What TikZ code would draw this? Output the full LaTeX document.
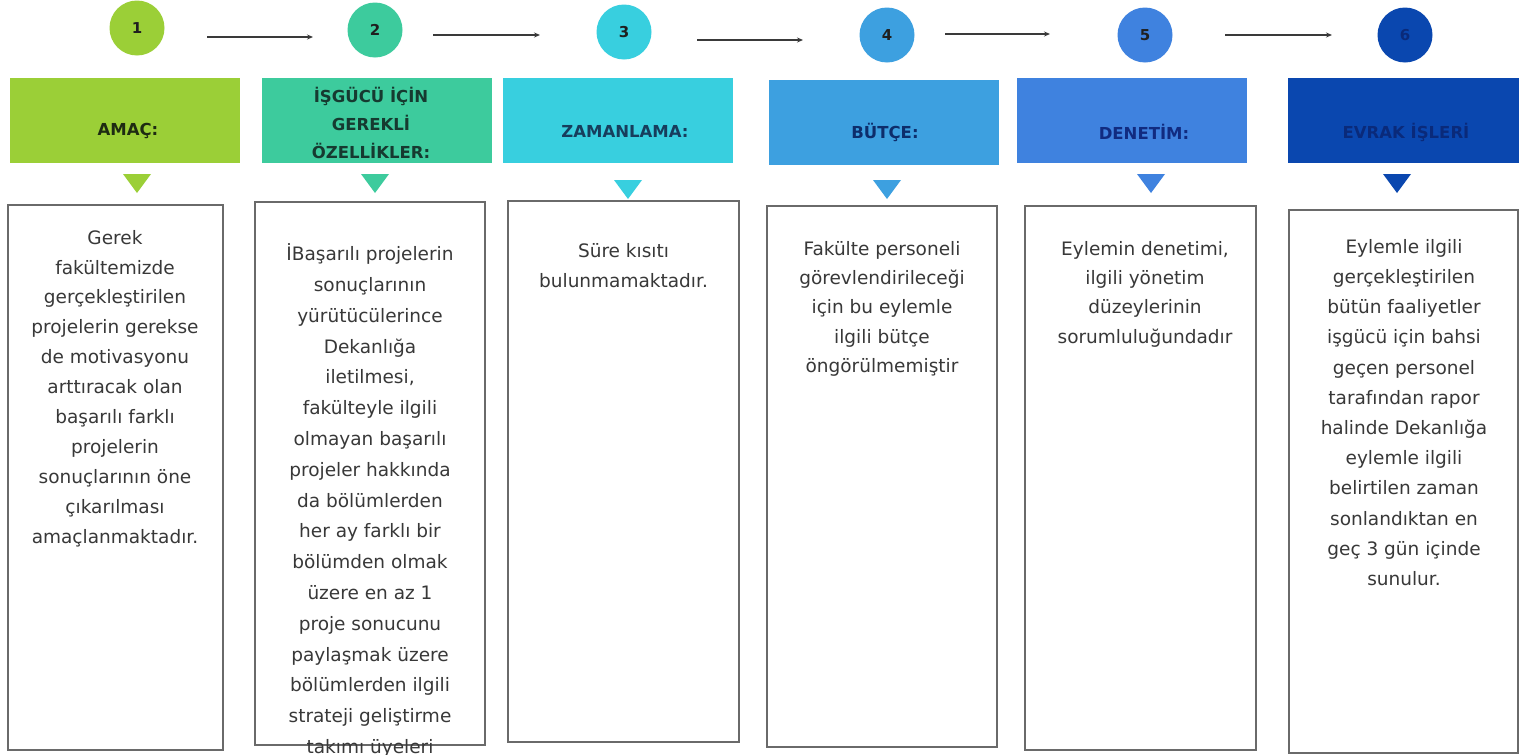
\documentclass[tikz,border=0pt]{standalone}
\usepackage{fontspec}
\setmainfont{DejaVu Sans}
\usetikzlibrary{arrows.meta}
\definecolor{cA}{HTML}{9BCF37}
\definecolor{cB}{HTML}{3DCB9D}
\definecolor{cC}{HTML}{38CFDF}
\definecolor{cD}{HTML}{3DA0E0}
\definecolor{cE}{HTML}{3F82DF}
\definecolor{cF}{HTML}{0A47AF}
\definecolor{hA}{HTML}{1E2B12}
\definecolor{hB}{HTML}{163A30}
\definecolor{hC}{HTML}{173D5C}
\definecolor{hD}{HTML}{0D2D6B}
\definecolor{hE}{HTML}{112B80}
\definecolor{hF}{HTML}{0A2A7A}
\definecolor{numtext}{HTML}{1F1F1F}
\definecolor{boxgray}{HTML}{6A6A6A}
\definecolor{bodytext}{HTML}{383838}
\definecolor{arrowgray}{HTML}{3A3A3A}
\begin{document}
\begin{tikzpicture}[x=1pt,y=-1pt,
  circ/.style={circle,minimum size=55pt,inner sep=0pt,font=\fontsize{15}{17}\selectfont\bfseries,text=numtext},
  head/.style={rectangle,minimum width=230pt,minimum height=85pt,inner sep=0pt},
  hlab/.style={font=\fontsize{16.5}{28}\selectfont\bfseries,align=center,inner sep=0pt},
  tbox/.style={rectangle,draw=boxgray,line width=1.6pt,fill=white,inner sep=0pt},
  body/.style={align=center,anchor=north,inner sep=0pt,text=bodytext},
  conn/.style={draw=arrowgray,line width=1.5pt,-{Stealth[length=6pt,width=5pt]}}
]
\fill[white] (0,0) rectangle (1521,755);
\useasboundingbox (0,0) rectangle (1521,755);

% step circles
\node[circ,fill=cA] (c1) at (137,28) {1};
\node[circ,fill=cB] (c2) at (375,30) {2};
\node[circ,fill=cC] (c3) at (624,32) {3};
\node[circ,fill=cD] (c4) at (887,35) {4};
\node[circ,fill=cE] (c5) at (1145,35) {5};
\node[circ,fill=cF,text=hF] (c6) at (1405,35) {6};

% arrows between circles
\coordinate (a1s) at (207,37); \coordinate (a1e) at (313,37);
\coordinate (a2s) at (433,35); \coordinate (a2e) at (540,35);
\coordinate (a3s) at (697,40); \coordinate (a3e) at (803,40);
\coordinate (a4s) at (945,34); \coordinate (a4e) at (1050,34);
\coordinate (a5s) at (1225,35); \coordinate (a5e) at (1332,35);
\draw[conn] (a1s) -- (a1e);
\draw[conn] (a2s) -- (a2e);
\draw[conn] (a3s) -- (a3e);
\draw[conn] (a4s) -- (a4e);
\draw[conn] (a5s) -- (a5e);

% header boxes
\node[head,fill=cA] (h1) at (125,120.5) {};
\node[head,fill=cB] (h2) at (377,120.5) {};
\node[head,fill=cC] (h3) at (618,120.5) {};
\node[head,fill=cD] (h4) at (883.5,122.5) {};
\node[head,fill=cE] (h5) at (1131.5,120.5) {};
\node[head,fill=cF,minimum width=231pt] (h6) at (1403.5,120.5) {};

\node[hlab,text=hA] (l1) at (128,131) {AMAÇ:};
\node[hlab,text=hB] (l2) at (371,123) {İŞGÜCÜ İÇİN\\GEREKLİ\\ÖZELLİKLER:};
\node[hlab,text=hC] (l3) at (625,131) {ZAMANLAMA:};
\node[hlab,text=hD] (l4) at (885,132) {BÜTÇE:};
\node[hlab,text=hE] (l5) at (1144,132) {DENETİM:};
\node[hlab,text=hF] (l6) at (1406,132) {EVRAK İŞLERİ};

% small triangles
\fill[cA] (123,174) -- (151,174) -- (137,193) -- cycle;
\fill[cB] (361,174) -- (389,174) -- (375,193) -- cycle;
\fill[cC] (614,180) -- (642,180) -- (628,199) -- cycle;
\fill[cD] (873,180) -- (901,180) -- (887,199) -- cycle;
\fill[cE] (1137,174) -- (1165,174) -- (1151,193) -- cycle;
\fill[cF] (1383,174) -- (1411,174) -- (1397,193) -- cycle;

% text boxes
\node[tbox,minimum width=215pt,minimum height=545pt] (b1) at (115.5,477.5) {};
\node[tbox,minimum width=230pt,minimum height=543pt] (b2) at (370,473.5) {};
\node[tbox,minimum width=231pt,minimum height=541pt] (b3) at (623.5,471.5) {};
\node[tbox,minimum width=230pt,minimum height=541pt] (b4) at (882,476.5) {};
\node[tbox,minimum width=231pt,minimum height=544pt] (b5) at (1140.5,478) {};
\node[tbox,minimum width=229pt,minimum height=543pt] (b6) at (1403.5,481.5) {};

% body texts
\node[body,font=\fontsize{18.5}{29.9}\selectfont] (t1) at (115,223) {\strut Gerek\\fakültemizde\\gerçekleştirilen\\projelerin gerekse\\de motivasyonu\\arttıracak olan\\başarılı farklı\\projelerin\\sonuçlarının öne\\çıkarılması\\amaçlanmaktadır.};
\node[body,font=\fontsize{18.5}{30.8}\selectfont] (t2) at (370,239) {\strut İBaşarılı projelerin\\sonuçlarının\\yürütücülerince\\Dekanlığa\\iletilmesi,\\fakülteyle ilgili\\olmayan başarılı\\projeler hakkında\\da bölümlerden\\her ay farklı bir\\bölümden olmak\\üzere en az 1\\proje sonucunu\\paylaşmak üzere\\bölümlerden ilgili\\strateji geliştirme\\takımı üyeleri};
\node[body,font=\fontsize{18.5}{30}\selectfont] (t3) at (623.5,236) {\strut Süre kısıtı\\bulunmamaktadır.};
\node[body,font=\fontsize{18.5}{29.3}\selectfont] (t4) at (882,234.5) {\strut Fakülte personeli\\görevlendirileceği\\için bu eylemle\\ilgili bütçe\\öngörülmemiştir};
\node[body,font=\fontsize{18.5}{29.3}\selectfont] (t5) at (1145,234.5) {\strut Eylemin denetimi,\\ilgili yönetim\\düzeylerinin\\sorumluluğundadır};
\node[body,font=\fontsize{18.5}{30.2}\selectfont] (t6) at (1404,231.9) {\strut Eylemle ilgili\\gerçekleştirilen\\bütün faaliyetler\\işgücü için bahsi\\geçen personel\\tarafından rapor\\halinde Dekanlığa\\eylemle ilgili\\belirtilen zaman\\sonlandıktan en\\geç 3 gün içinde\\sunulur.};
\end{tikzpicture}
\end{document}
